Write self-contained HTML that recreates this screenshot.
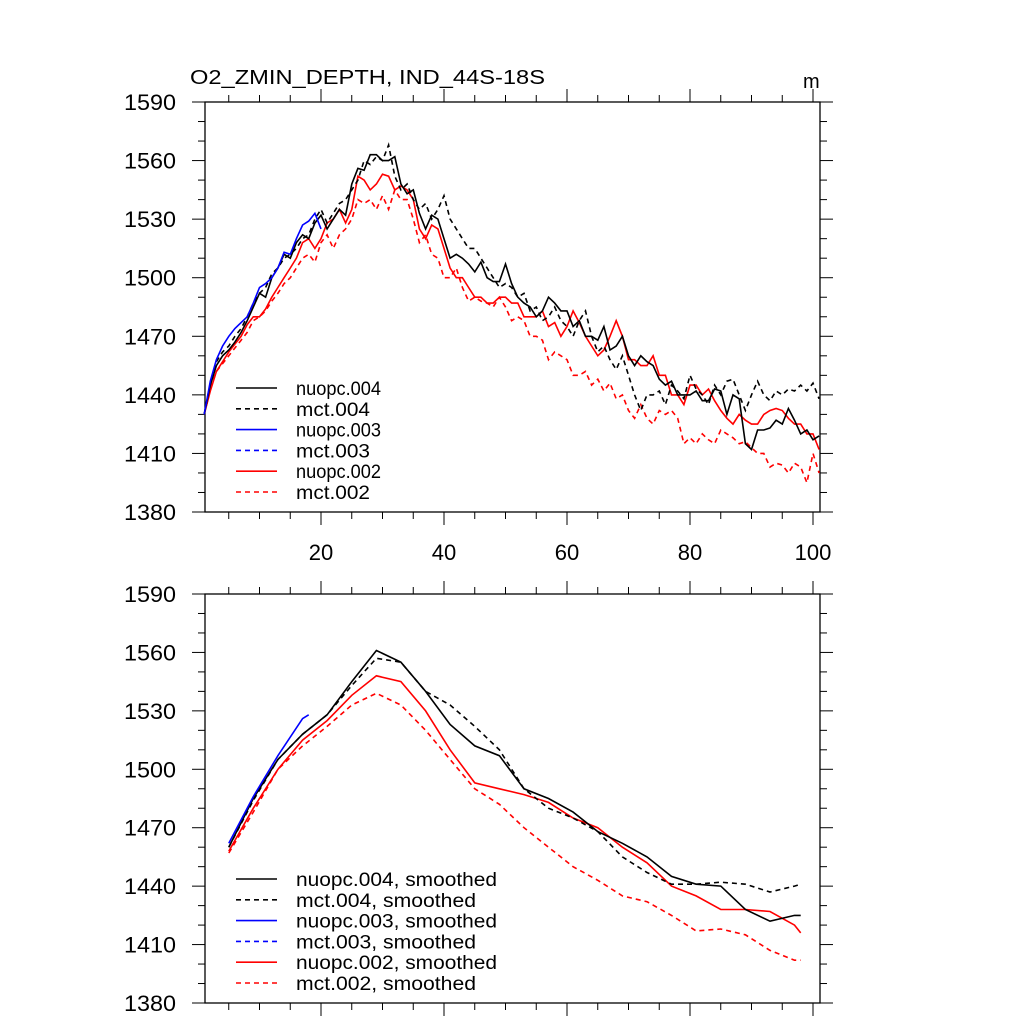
<!DOCTYPE html>
<html><head><meta charset="utf-8"><style>
body{margin:0;background:#fff}
svg{display:block}
text{font-family:"Liberation Sans",sans-serif;fill:#000}
</style></head><body>
<svg id="c" width="1024" height="1024"></svg>
<script>
// ---------- data ----------
const years = [];
for (let i = 1; i <= 101; i++) years.push(i);
const nuopc004 = [1430,1445,1455,1460,1463,1467,1472,1478,1485,1492,1490,1500,1505,1512,1510,1518,1522,1520,1528,1532,1525,1530,1535,1532,1548,1556,1555,1563,1563,1560,1560,1562,1548,1543,1545,1533,1525,1532,1530,1520,1510,1512,1510,1507,1503,1508,1500,1498,1498,1507,1497,1490,1487,1485,1480,1483,1490,1487,1483,1483,1475,1478,1470,1470,1468,1475,1463,1465,1470,1460,1455,1460,1457,1455,1448,1445,1447,1440,1440,1440,1442,1437,1437,1443,1442,1430,1440,1438,1415,1412,1422,1422,1423,1427,1425,1433,1427,1420,1422,1417,1419];
const mct004 = [1430,1446,1457,1462,1465,1470,1474,1480,1487,1492,1495,1502,1505,1510,1512,1515,1520,1522,1530,1535,1528,1533,1538,1540,1545,1550,1560,1558,1562,1560,1568,1552,1545,1548,1540,1535,1538,1530,1535,1542,1530,1525,1520,1515,1515,1510,1505,1500,1495,1497,1495,1490,1492,1483,1485,1478,1480,1485,1478,1475,1470,1478,1483,1470,1462,1465,1458,1453,1460,1450,1440,1432,1440,1440,1442,1435,1445,1442,1438,1450,1443,1440,1435,1445,1440,1447,1448,1440,1432,1440,1447,1440,1437,1442,1440,1443,1442,1445,1442,1446,1438];
const nuopc002 = [1430,1442,1452,1457,1462,1466,1470,1476,1480,1480,1484,1490,1495,1500,1505,1510,1518,1520,1515,1520,1528,1530,1535,1528,1535,1552,1550,1545,1548,1553,1552,1545,1547,1545,1540,1525,1520,1527,1525,1515,1505,1500,1500,1495,1490,1490,1487,1487,1490,1490,1487,1487,1480,1480,1480,1483,1475,1477,1470,1475,1483,1477,1470,1465,1460,1463,1470,1478,1470,1458,1458,1455,1455,1460,1450,1450,1440,1440,1435,1445,1445,1440,1443,1437,1432,1428,1425,1430,1427,1425,1425,1430,1432,1433,1432,1428,1425,1425,1420,1420,1412];
const mct002 = [1430,1443,1452,1456,1460,1464,1468,1472,1478,1480,1483,1488,1492,1497,1500,1505,1510,1512,1508,1518,1522,1515,1522,1525,1530,1540,1538,1540,1535,1542,1535,1545,1540,1540,1530,1518,1522,1512,1510,1500,1500,1505,1495,1488,1490,1488,1487,1485,1490,1485,1478,1480,1478,1470,1470,1468,1458,1462,1460,1458,1450,1450,1452,1445,1448,1442,1446,1438,1440,1432,1428,1435,1428,1425,1432,1430,1432,1428,1415,1418,1415,1420,1417,1415,1422,1420,1418,1415,1416,1413,1410,1410,1403,1405,1404,1400,1405,1403,1395,1410,1400];
const nuopc003 = [1430,1447,1458,1465,1470,1474,1477,1480,1487,1495,1497,1500,1505,1513,1512,1520,1527,1529,1533,1525];
const smoothYears = [5,9,13,17,21,25,29,33,37,41,45,49,53,57,61,65,69,73,77,81,85,89,93,97,98];
const sNuopc004 = [1460,1485,1505,1518,1528,1545,1561,1555,1540,1523,1512,1507,1490,1485,1478,1468,1462,1455,1445,1441,1440,1428,1422,1425,1425];
const sMct004 = [1460,1484,1505,1518,1528,1543,1557,1555,1540,1533,1522,1510,1490,1480,1475,1468,1455,1447,1441,1441,1442,1441,1437,1440,1441];
const sNuopc002 = [1458,1480,1500,1515,1525,1538,1548,1545,1530,1510,1493,1490,1487,1483,1475,1470,1460,1452,1440,1435,1428,1428,1427,1420,1416];
const sMct002 = [1457,1478,1500,1512,1522,1533,1539,1533,1520,1505,1490,1482,1470,1460,1450,1443,1435,1432,1425,1417,1418,1415,1407,1402,1402];
const sYears003 = [5,9,13,17,18];
const sNuopc003 = [1462,1486,1507,1526,1528];
const yTicks = [1380,1410,1440,1470,1500,1530,1560,1590];
const xTicks = [20,40,60,80,100];

// ---------- layout ----------
const NS = "http://www.w3.org/2000/svg";
const svg = document.getElementById('c');
const L = 205, R = 820;
const xs = v => 321 + (v - 20) * (813 - 321) / 80;
function mk(tag, attrs, parent) {
  const e = document.createElementNS(NS, tag);
  for (const k in attrs) e.setAttribute(k, attrs[k]);
  (parent || svg).appendChild(e);
  return e;
}
function panel(top, bottom, name, showX, series, legend, legY, legW) {
  const g = mk('g', {});
  
  
  const ys = v => bottom - (v - 1380) * (bottom - top) / 210;
  const fr = mk('rect', {x: L, y: top, width: R - L, height: bottom - top, fill: 'none', stroke: '#000', 'stroke-width': 1.3}, g);
  
  
  for (let v = 5; v <= 100; v += 5) {
    const major = v % 20 === 0, len = major ? 13 : 7, x = xs(v);
    mk('line', {x1: x, x2: x, y1: bottom, y2: bottom + len, stroke: '#000', 'stroke-width': 1}, g);
    mk('line', {x1: x, x2: x, y1: top, y2: top - len, stroke: '#000', 'stroke-width': 1}, g);
  }
  for (let v = 1380; v <= 1590; v += 10) {
    const major = (v - 1380) % 30 === 0, len = major ? 13 : 7, y = ys(v);
    mk('line', {x1: L, x2: L - len, y1: y, y2: y, stroke: '#000', 'stroke-width': 1}, g);
    mk('line', {x1: R, x2: R + len, y1: y, y2: y, stroke: '#000', 'stroke-width': 1}, g);
  }
  yTicks.forEach(v => {
    const t = mk('text', {x: 176, y: ys(v) + 8, 'text-anchor': 'end', 'font-size': 22, textLength: 52, lengthAdjust: 'spacingAndGlyphs'}, g);
    t.textContent = v;
    
    
  });
  if (showX) xTicks.forEach(v => {
    const t = mk('text', {x: xs(v), y: bottom + 48, 'text-anchor': 'middle', 'font-size': 22}, g);
    t.textContent = v;
    
    
  });
  series.forEach(s => {
    const pts = s.y.map((v, i) => xs(s.x[i]).toFixed(1) + ',' + ys(v).toFixed(1)).join(' ');
    const p = mk('polyline', {points: pts, fill: 'none', stroke: s.c, 'stroke-width': 1.6, 'stroke-dasharray': s.d ? '5,4' : 'none'}, g);
    
    
  });
  legend.forEach((e, i) => {
    const y = legY + i * 20.8;
    const l = mk('line', {x1: 236, x2: 277, y1: y, y2: y, stroke: e.c, 'stroke-width': 1.6, 'stroke-dasharray': e.d ? '5,4' : 'none'}, g);
    
    
    const t = mk('text', {x: 296, y: y + 7, 'font-size': 19, textLength: legW[i], lengthAdjust: 'spacingAndGlyphs'}, g);
    t.textContent = e.t;
    
    
  });
}
const topSeries = [
  {x: years, y: mct002, c: '#f00', d: 1, n: 'line-mct-002'},
  {x: years, y: nuopc002, c: '#f00', d: 0, n: 'line-nuopc-002'},
  {x: years, y: mct004, c: '#000', d: 1, n: 'line-mct-004'},
  {x: years, y: nuopc004, c: '#000', d: 0, n: 'line-nuopc-004'},
  {x: years.slice(0, nuopc003.length), y: nuopc003, c: '#00f', d: 0, n: 'line-nuopc-003'}
];
const botSeries = [
  {x: smoothYears, y: sMct002, c: '#f00', d: 1, n: 'line-mct-002-smoothed'},
  {x: smoothYears, y: sNuopc002, c: '#f00', d: 0, n: 'line-nuopc-002-smoothed'},
  {x: smoothYears, y: sMct004, c: '#000', d: 1, n: 'line-mct-004-smoothed'},
  {x: smoothYears, y: sNuopc004, c: '#000', d: 0, n: 'line-nuopc-004-smoothed'},
  {x: sYears003, y: sNuopc003, c: '#00f', d: 0, n: 'line-nuopc-003-smoothed'}
];
const names = ['nuopc.004','mct.004','nuopc.003','mct.003','nuopc.002','mct.002'];
const cols = ['#000','#000','#00f','#00f','#f00','#f00'];
panel(102, 512, 'top-panel', true, topSeries, names.map((t, i) => ({t, c: cols[i], d: i % 2})), 388, [85,74,85,74,85,74]);
panel(594, 1003, 'bottom-panel', false, botSeries, names.map((t, i) => ({t: t + ', smoothed', c: cols[i], d: i % 2})), 879, [201,180,201,180,201,180]);
const ti = mk('text', {x: 190, y: 84, 'font-size': 20, textLength: 355, lengthAdjust: 'spacingAndGlyphs'});
ti.textContent = 'O2_ZMIN_DEPTH, IND_44S-18S';


const un = mk('text', {x: 803, y: 88, 'font-size': 20});
un.textContent = 'm';


</script>
</body></html>
